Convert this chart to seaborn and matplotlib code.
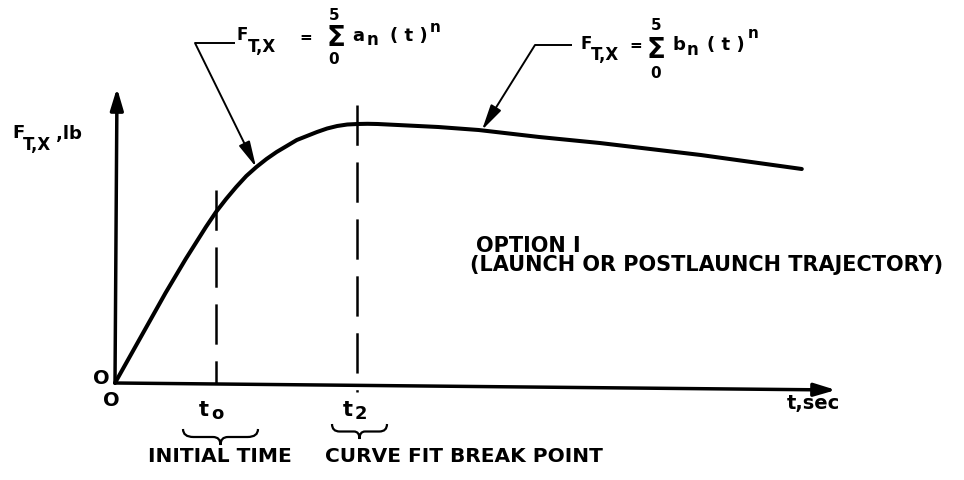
import matplotlib
matplotlib.use("Agg")
import matplotlib.pyplot as plt
import matplotlib.transforms as mtransforms
from matplotlib.path import Path
from matplotlib.patches import PathPatch
from matplotlib.lines import Line2D
import seaborn as sns

sns.set_theme(style="white")
plt.rcParams['font.family'] = ['DejaVu Sans']
plt.rcParams['lines.scale_dashes'] = False

# Thrust component history, F_T,X (lb) against t (sec)
t_sec = [0.0, 0.1, 0.2, 0.3, 0.4, 0.5, 0.6, 0.7, 0.8, 0.9,
         1.0, 1.1, 1.2, 1.3, 1.4, 1.5, 1.6, 1.7, 1.8, 1.9,
         2.0, 2.1, 2.2, 2.3, 2.4, 2.5, 2.6, 2.8, 3.2, 3.6,
         4.2, 4.8, 5.8, 6.8]
thrust = [0.0, 0.18, 0.36, 0.54, 0.72, 0.90, 1.07, 1.24, 1.40, 1.56,
          1.71, 1.84, 1.96, 2.07, 2.16, 2.24, 2.31, 2.37, 2.43, 2.47,
          2.51, 2.545, 2.57, 2.585, 2.59, 2.592, 2.59, 2.58, 2.56, 2.53,
          2.46, 2.40, 2.28, 2.14]
# Marked times: initial time and curve-fit break point
t_marks = [1.0, 2.4]
t_mark_names = ["t", "t"]
t_mark_subs = ["o", "2"]
t_mark_tops = [1.93, 2.78]
t_mark_bottoms = [0.0, -0.09]
brace_labels = ["INITIAL TIME", "CURVE FIT BREAK POINT"]
option_lines = ["OPTION I", "(LAUNCH OR POSTLAUNCH TRAJECTORY)"]

W, H = 964, 480
fig = plt.figure(figsize=(W / 100, H / 100), dpi=100)
fig.patch.set_facecolor("white")
ax = fig.add_axes([0, 0, 1, 1])

sns.lineplot(x=t_sec, y=thrust, ax=ax, color="black", linewidth=2.9,
             solid_capstyle="round", solid_joinstyle="round", sort=False)

for tm, top, bot in zip(t_marks, t_mark_tops, t_mark_bottoms):
    ax.plot([tm, tm], [top, bot], color="black", linewidth=1.8,
            linestyle=(0, (29, 12)))

ax.set_xlim(-115 / 101, (W - 115) / 101)
ax.set_ylim((383 - H) / 100, 383 / 100)
ax.axis("off")

# pixel-style frame for annotations (origin top-left)
px = mtransforms.Affine2D().scale(1 / W, -1 / H).translate(0, 1) + fig.transFigure
INK = "black"
FW = "bold"


def arrow(x0, y0, x1, y1, lw, hl, hw, ms):
    ax.annotate("", xy=(x1, y1), xytext=(x0, y0), xycoords=px, textcoords=px,
                arrowprops=dict(arrowstyle=f"-|>,head_length={hl},head_width={hw}",
                                mutation_scale=ms, lw=lw, color=INK,
                                shrinkA=0, shrinkB=0))


def seg(xs, ys, lw):
    ax.add_line(Line2D(xs, ys, transform=px, color=INK, linewidth=lw,
                       solid_capstyle="butt"))


def txt(x, y, s, size, ha="left", va="center"):
    ax.text(x, y, s, transform=px, fontsize=size, fontweight=FW, color=INK,
            ha=ha, va=va)


def brace(x0, x1, ytop, ybot, lw=1.6):
    w = x1 - x0
    xc = (x0 + x1) / 2
    ym = ytop + 0.5 * (ybot - ytop)
    verts = [(x0, ytop), (x0, ym), (x0 + 0.14 * w, ym),
             (xc - 0.1 * w, ym), (xc, ym), (xc, ybot),
             (xc, ym), (xc + 0.1 * w, ym),
             (x1 - 0.14 * w, ym), (x1, ym), (x1, ytop)]
    codes = [Path.MOVETO, Path.CURVE3, Path.CURVE3,
             Path.LINETO, Path.CURVE3, Path.CURVE3,
             Path.CURVE3, Path.CURVE3,
             Path.LINETO, Path.CURVE3, Path.CURVE3]
    ax.add_patch(PathPatch(Path(verts, codes), transform=px, fill=False,
                           edgecolor=INK, linewidth=lw))


# axes with arrowheads
arrow(115, 383, 117, 88, 2.5, 1.0, 0.3, 13)
arrow(115, 383, 836, 390, 2.5, 1.0, 0.3, 13)

# axis labels
txt(12, 133, "F", 13)
txt(23, 145, "T,X", 12)
txt(56, 134, ",lb", 13)
txt(101, 378, "O", 14, ha="center")
txt(111, 401, "O", 14, ha="center")
txt(787, 404, "t,sec", 14)

# marked times
for xpx, name, sub in zip([199, 343], t_mark_names, t_mark_subs):
    txt(xpx, 410, name, 15)
    txt(xpx + 12, 414, sub, 13)

brace(183, 258, 429, 445)
brace(332, 387, 424, 439)
txt(220, 456, brace_labels[0], 14.5, ha="center")
txt(464, 456, brace_labels[1], 14.5, ha="center")

txt(476, 246, option_lines[0], 15)
txt(470, 265, option_lines[1], 15)

# leader for first-segment polynomial
seg([235, 195], [43, 43], 1.4)
arrow(195, 43, 256, 167, 1.4, 1.3, 0.3, 12)
txt(236, 35, "F", 12)
txt(248, 47, "T,X", 12)
txt(299, 37, "=", 11)
txt(336, 38, "\u03a3", 20, ha="center")
txt(334, 16, "5", 11, ha="center")
txt(334, 59, "0", 11, ha="center")
txt(352, 36, "a", 13)
txt(367, 40, "n", 12)
txt(390, 36, "( t )", 13)
txt(430, 27, "n", 11)

# leader for second-segment polynomial
seg([572, 535], [45, 45], 1.4)
arrow(535, 45, 482, 130, 1.4, 1.3, 0.3, 12)
txt(580, 44, "F", 12)
txt(591, 55, "T,X", 12)
txt(629, 46, "=", 11)
txt(656, 50, "\u03a3", 20, ha="center")
txt(656, 25, "5", 11, ha="center")
txt(656, 73, "0", 11, ha="center")
txt(673, 45, "b", 13)
txt(687, 50, "n", 12)
txt(707, 45, "( t )", 13)
txt(748, 33, "n", 11)

fig.savefig("out.png", dpi=100, facecolor="white")
